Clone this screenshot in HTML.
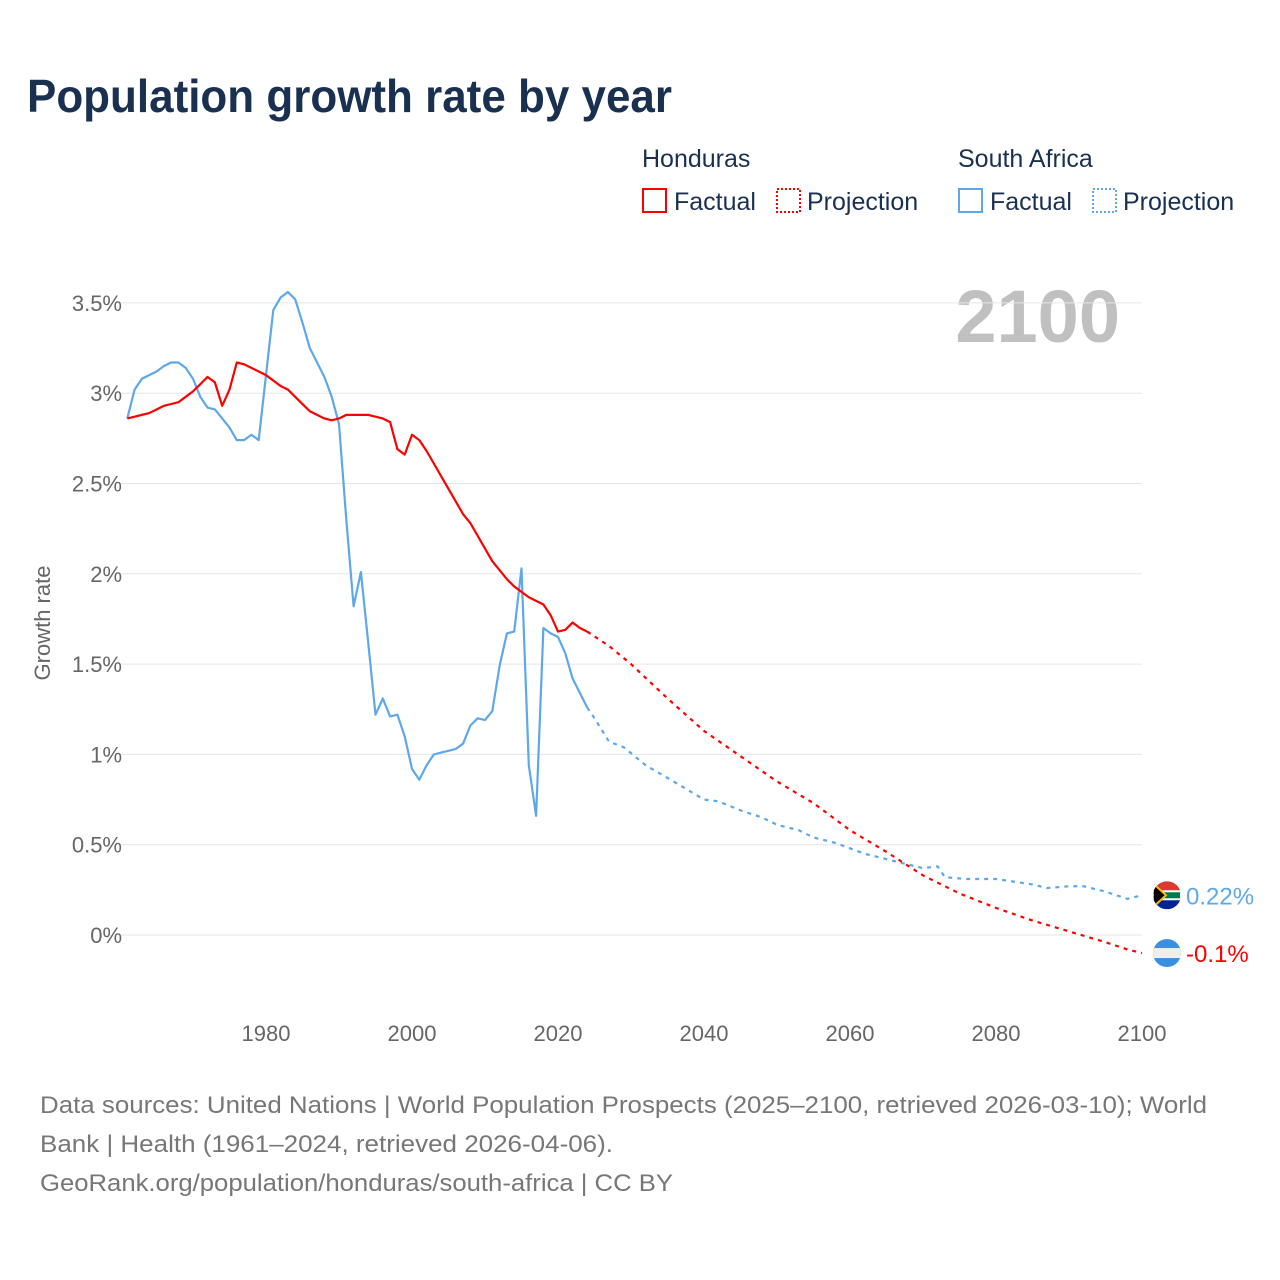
<!DOCTYPE html>
<html><head><meta charset="utf-8"><style>
body{margin:0;background:#fff;font-family:"Liberation Sans",sans-serif;}
#wrap{position:relative;width:1280px;height:1280px;overflow:hidden;}
</style></head><body>
<div id="wrap">
<svg id="chart" width="1280" height="1280" font-family="Liberation Sans, sans-serif">
<text x="27" y="112" font-size="46" font-weight="bold" fill="#1a3050" textLength="645" lengthAdjust="spacingAndGlyphs">Population growth rate by year</text>
<g font-size="25" fill="#1a3050">
 <text x="642" y="167">Honduras</text>
 <g><rect x="643" y="189" width="23" height="23" fill="none" stroke="#ff0000" stroke-width="2"/><text x="674" y="210">Factual</text></g>
 <g><rect x="777" y="189" width="23" height="23" fill="none" stroke="#ff0000" stroke-width="2" stroke-dasharray="2,2"/><text x="807" y="210">Projection</text></g>
 <text x="958" y="167">South Africa</text>
 <g><rect x="959" y="189" width="23" height="23" fill="none" stroke="#5ea8ea" stroke-width="2"/><text x="990" y="210">Factual</text></g>
 <g><rect x="1093" y="189" width="23" height="23" fill="none" stroke="#5ea8ea" stroke-width="2" stroke-dasharray="2,2"/><text x="1123" y="210">Projection</text></g>
</g>
<text x="1120" y="342" font-size="74" font-weight="bold" fill="#c0c0c0" text-anchor="end">2100</text>
<text transform="translate(50,623) rotate(-90)" font-size="22" fill="#666" text-anchor="middle">Growth rate</text>
<g id="grid"></g><g id="series"></g>
<g font-size="24" fill="#777">
<text x="40" y="1113" textLength="1167" lengthAdjust="spacingAndGlyphs">Data sources: United Nations | World Population Prospects (2025–2100, retrieved 2026-03-10); World</text>
<text x="40" y="1152" textLength="573" lengthAdjust="spacingAndGlyphs">Bank | Health (1961–2024, retrieved 2026-04-06).</text>
<text x="40" y="1191" textLength="633" lengthAdjust="spacingAndGlyphs">GeoRank.org/population/honduras/south-africa | CC BY</text>
</g>
</svg>
</div>
<script>
const yTicks=[0,0.5,1,1.5,2,2.5,3,3.5];
const yTickLabels=["0%","0.5%","1%","1.5%","2%","2.5%","3%","3.5%"];
const xTicks=[1980,2000,2020,2040,2060,2080,2100];
const hnFactYears=[];for(let y=1961;y<=2024;y++)hnFactYears.push(y);
const hnFact=[2.86,2.87,2.88,2.89,2.91,2.93,2.94,2.95,2.98,3.01,3.05,3.09,3.06,2.93,3.02,3.17,3.16,3.14,3.12,3.10,3.07,3.04,3.02,2.98,2.94,2.90,2.88,2.86,2.85,2.86,2.88,2.88,2.88,2.88,2.87,2.86,2.84,2.69,2.66,2.77,2.74,2.68,2.61,2.54,2.47,2.40,2.33,2.28,2.21,2.14,2.07,2.02,1.97,1.93,1.90,1.87,1.85,1.83,1.77,1.68,1.69,1.73,1.70,1.68];
const hnProjYears=[2024,2027,2030,2035,2040,2045,2050,2055,2060,2065,2070,2075,2080,2085,2090,2095,2098,2100];
const hnProj=[1.68,1.60,1.50,1.31,1.13,0.99,0.85,0.73,0.58,0.46,0.33,0.23,0.15,0.08,0.02,-0.04,-0.08,-0.10];
const saFactYears=hnFactYears;
const saFact=[2.86,3.02,3.08,3.10,3.12,3.15,3.17,3.17,3.14,3.08,2.98,2.92,2.91,2.86,2.81,2.74,2.74,2.77,2.74,3.10,3.46,3.53,3.56,3.52,3.39,3.25,3.17,3.09,2.98,2.83,2.30,1.82,2.01,1.62,1.22,1.31,1.21,1.22,1.10,0.92,0.86,0.94,1.00,1.01,1.02,1.03,1.06,1.16,1.20,1.19,1.24,1.49,1.67,1.68,2.03,0.94,0.66,1.70,1.67,1.65,1.56,1.42,1.34,1.26];
const saProjYears=[2024,2025,2027,2029,2032,2035,2040,2042,2045,2048,2050,2053,2055,2058,2062,2065,2070,2072,2073,2076,2080,2085,2087,2090,2092,2095,2098,2100];
const saProj=[1.26,1.20,1.07,1.04,0.94,0.87,0.75,0.74,0.69,0.65,0.61,0.58,0.54,0.51,0.45,0.42,0.37,0.38,0.32,0.31,0.31,0.28,0.26,0.27,0.27,0.24,0.20,0.22];
const X=y=>266+(y-1980)*7.3, Y=v=>935-v*180.6;
const NS="http://www.w3.org/2000/svg";
const grid=document.getElementById('grid'),ser=document.getElementById('series');
function mk(t,a,p){const e=document.createElementNS(NS,t);for(const k in a)e.setAttribute(k,a[k]);p.appendChild(e);return e;}
yTicks.forEach((v,i)=>{
 const l=mk('line',{x1:120,x2:1142,y1:Y(v),y2:Y(v),stroke:'#e6e6e6','stroke-width':1},grid);
 
 
 const t=mk('text',{x:122,y:Y(v)+8,'text-anchor':'end','font-size':22,fill:'#666'},grid);t.textContent=yTickLabels[i];
 
 
});
xTicks.forEach(v=>{
 const t=mk('text',{x:X(v),y:1041,'text-anchor':'middle','font-size':22,fill:'#666'},grid);t.textContent=v;
 
 
});
function line(ys,vs,col,dash,name){
 const p=mk('polyline',{points:ys.map((y,i)=>X(y)+','+Y(vs[i])).join(' '),fill:'none',stroke:col,'stroke-width':2.2,'stroke-linejoin':'round'},ser);
 if(dash)p.setAttribute('stroke-dasharray','4,5');
 
 
}
line(saFactYears,saFact,'#5ea8ea',false,'south-africa-factual-line');
line(saProjYears,saProj,'#5ea8ea',true,'south-africa-projection-line');
line(hnFactYears,hnFact,'#ff0000',false,'honduras-factual-line');
line(hnProjYears,hnProj,'#ff0000',true,'honduras-projection-line');
const sy=Y(saProj[saProj.length-1]),hy=Y(hnProj[hnProj.length-1]);
const g1=mk('g',{},ser);


mk('clipPath',{id:'c1'},g1);mk('circle',{cx:1167,cy:sy,r:14},document.getElementById('c1'));
const f1=mk('g',{'clip-path':'url(#c1)'},g1);
mk('rect',{x:1153,y:sy-14,width:28,height:14,fill:'#de3831'},f1);
mk('rect',{x:1153,y:sy,width:28,height:14,fill:'#002395'},f1);
mk('rect',{x:1153,y:sy-4,width:28,height:8,fill:'#007a4d',stroke:'#fff','stroke-width':2},f1);
mk('polygon',{points:`1153,${sy-12} 1166,${sy} 1153,${sy+12}`,fill:'#000',stroke:'#ffb612','stroke-width':2},f1);
const t1=mk('text',{x:1186,y:sy+9,'font-size':24,fill:'#5ea8ea'},g1);t1.textContent='0.22%';
const g2=mk('g',{},ser);


mk('clipPath',{id:'c2'},g2);mk('circle',{cx:1167,cy:hy,r:14},document.getElementById('c2'));
const f2=mk('g',{'clip-path':'url(#c2)'},g2);
mk('rect',{x:1153,y:hy-14,width:28,height:28,fill:'#3a8fe0'},f2);
mk('rect',{x:1153,y:hy-5,width:28,height:10,fill:'#eee'},f2);
const t2=mk('text',{x:1186,y:hy+9,'font-size':24,fill:'#ff0000'},g2);t2.textContent='-0.1%';
</script>
</body></html>
